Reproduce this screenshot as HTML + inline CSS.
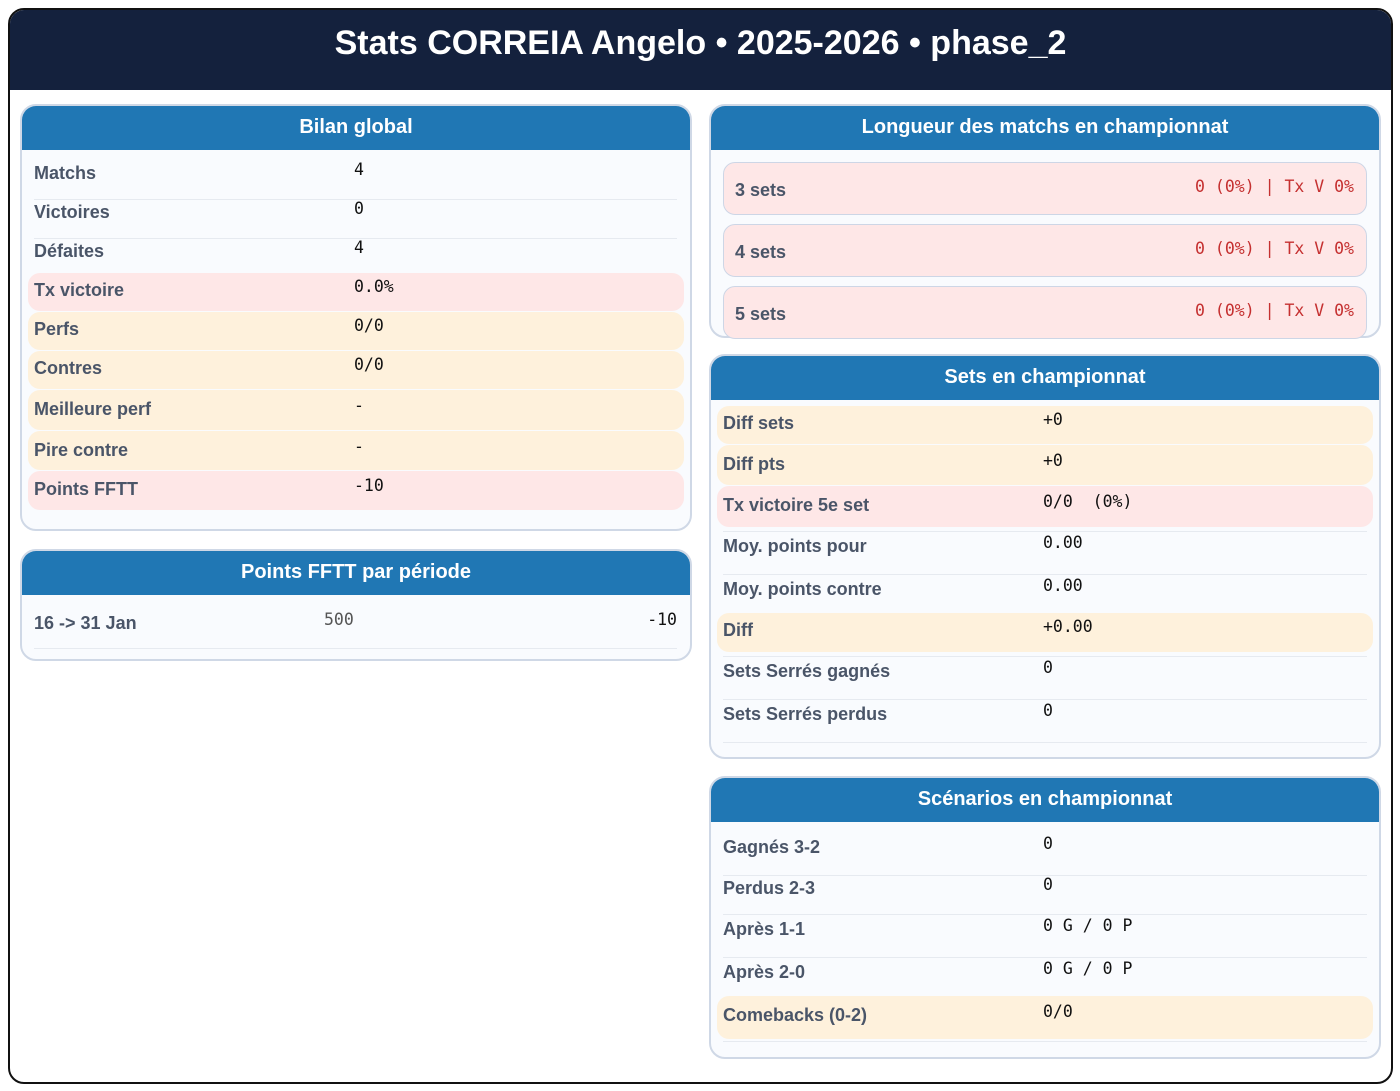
<!DOCTYPE html>
<html><head><meta charset="utf-8"><style>
*{box-sizing:border-box;margin:0;padding:0}
body{width:1400px;height:1091px;background:#fff;position:relative;font-family:"Liberation Sans",sans-serif;overflow:hidden}
.frame{position:absolute;left:8px;top:8px;width:1385px;height:1076px;border:2px solid #111;border-radius:16px;overflow:hidden}
.top{position:absolute;left:0;top:0;width:100%;height:80px;background:#14213d;color:#fff;font-weight:bold;font-size:34px;text-align:center;line-height:66px}
.panel{position:absolute;border:2px solid #cfd8e6;border-radius:16px;background:#f9fbfe;overflow:hidden}
.ph{position:absolute;left:-2px;top:-2px;right:-2px;height:46px;background:#2077b4;color:#fff;font-weight:bold;font-size:20px;text-align:center;line-height:46px}
.a{position:absolute;height:20px;line-height:20px;white-space:pre}
.l{font-weight:bold;font-size:18px;color:#4a5568;margin-top:1px}
.v{font-family:"DejaVu Sans Mono","Liberation Mono",monospace;font-size:16.5px;color:#111;margin-top:-2px}
.hl{position:absolute;border-radius:12px}
.p{background:#fee7e7}.y{background:#fef1dc}
.sep{position:absolute;height:1px;background:#e6eaf0}
.box{position:absolute;left:723px;width:644px;height:53px;background:#fee7e7;border:1px solid #cdd6e6;border-radius:12px}
.r{color:#c53030}
</style></head><body>
<div class="frame"><div class="top">Stats CORREIA Angelo • 2025-2026 • phase_2</div></div>

<div class="panel" style="left:20px;top:104px;width:672px;height:427px"><div class="ph">Bilan global</div></div>
<div class="panel" style="left:20px;top:549px;width:672px;height:112px"><div class="ph">Points FFTT par période</div></div>
<div class="panel" style="left:709px;top:104px;width:672px;height:234px"><div class="ph">Longueur des matchs en championnat</div></div>
<div class="panel" style="left:709px;top:354px;width:672px;height:405px"><div class="ph">Sets en championnat</div></div>
<div class="panel" style="left:709px;top:776px;width:672px;height:283px"><div class="ph">Scénarios en championnat</div></div>

<div class="sep" style="left:34px;width:643px;top:199px"></div>
<div class="sep" style="left:34px;width:643px;top:238px"></div>
<div class="hl p" style="left:28px;width:656px;top:273px;height:38px"></div>
<div class="hl y" style="left:28px;width:656px;top:312px;height:38px"></div>
<div class="hl y" style="left:28px;width:656px;top:351px;height:38px"></div>
<div class="hl y" style="left:28px;width:656px;top:390px;height:40px"></div>
<div class="hl y" style="left:28px;width:656px;top:431px;height:39px"></div>
<div class="hl p" style="left:28px;width:656px;top:471px;height:39px"></div>
<div class="a l" style="left:34px;top:162px">Matchs</div><div class="a v" style="left:354px;top:162px">4</div>
<div class="a l" style="left:34px;top:201px">Victoires</div><div class="a v" style="left:354px;top:201px">0</div>
<div class="a l" style="left:34px;top:240px">Défaites</div><div class="a v" style="left:354px;top:240px">4</div>
<div class="a l" style="left:34px;top:279px">Tx victoire</div><div class="a v" style="left:354px;top:279px">0.0%</div>
<div class="a l" style="left:34px;top:318px">Perfs</div><div class="a v" style="left:354px;top:318px">0/0</div>
<div class="a l" style="left:34px;top:357px">Contres</div><div class="a v" style="left:354px;top:357px">0/0</div>
<div class="a l" style="left:34px;top:398px">Meilleure perf</div><div class="a v" style="left:354px;top:398px">-</div>
<div class="a l" style="left:34px;top:439px">Pire contre</div><div class="a v" style="left:354px;top:439px">-</div>
<div class="a l" style="left:34px;top:478px">Points FFTT</div><div class="a v" style="left:354px;top:478px">-10</div>

<div class="a l" style="left:34px;top:612px">16 -&gt; 31 Jan</div>
<div class="a v" style="left:324px;top:612px;color:#555">500</div>
<div class="a v" style="left:600px;width:77px;text-align:right;top:612px">-10</div>
<div class="sep" style="left:34px;width:643px;top:648px"></div>

<div class="box" style="top:162px"></div>
<div class="box" style="top:224px"></div>
<div class="box" style="top:286px"></div>
<div class="a l" style="left:735px;top:179px">3 sets</div><div class="a v r" style="left:1000px;width:354px;text-align:right;top:179px">0 (0%) | Tx V 0%</div>
<div class="a l" style="left:735px;top:241px">4 sets</div><div class="a v r" style="left:1000px;width:354px;text-align:right;top:241px">0 (0%) | Tx V 0%</div>
<div class="a l" style="left:735px;top:303px">5 sets</div><div class="a v r" style="left:1000px;width:354px;text-align:right;top:303px">0 (0%) | Tx V 0%</div>

<div class="hl y" style="left:717px;width:656px;top:406px;height:38px"></div>
<div class="hl y" style="left:717px;width:656px;top:445px;height:40px"></div>
<div class="hl p" style="left:717px;width:656px;top:486px;height:41px"></div>
<div class="hl y" style="left:717px;width:656px;top:613px;height:39px"></div>
<div class="sep" style="left:723px;width:644px;top:531px"></div>
<div class="sep" style="left:723px;width:644px;top:574px"></div>
<div class="sep" style="left:723px;width:644px;top:656px"></div>
<div class="sep" style="left:723px;width:644px;top:699px"></div>
<div class="sep" style="left:723px;width:644px;top:742px"></div>
<div class="a l" style="left:723px;top:412px">Diff sets</div><div class="a v" style="left:1043px;top:412px">+0</div>
<div class="a l" style="left:723px;top:453px">Diff pts</div><div class="a v" style="left:1043px;top:453px">+0</div>
<div class="a l" style="left:723px;top:494px">Tx victoire 5e set</div><div class="a v" style="left:1043px;top:494px">0/0  (0%)</div>
<div class="a l" style="left:723px;top:535px">Moy. points pour</div><div class="a v" style="left:1043px;top:535px">0.00</div>
<div class="a l" style="left:723px;top:578px">Moy. points contre</div><div class="a v" style="left:1043px;top:578px">0.00</div>
<div class="a l" style="left:723px;top:619px">Diff</div><div class="a v" style="left:1043px;top:619px">+0.00</div>
<div class="a l" style="left:723px;top:660px">Sets Serrés gagnés</div><div class="a v" style="left:1043px;top:660px">0</div>
<div class="a l" style="left:723px;top:703px">Sets Serrés perdus</div><div class="a v" style="left:1043px;top:703px">0</div>

<div class="sep" style="left:723px;width:644px;top:875px"></div>
<div class="sep" style="left:723px;width:644px;top:914px"></div>
<div class="sep" style="left:723px;width:644px;top:957px"></div>
<div class="hl y" style="left:717px;width:656px;top:996px;height:43px"></div>
<div class="sep" style="left:723px;width:644px;top:1041px"></div>
<div class="a l" style="left:723px;top:836px">Gagnés 3-2</div><div class="a v" style="left:1043px;top:836px">0</div>
<div class="a l" style="left:723px;top:877px">Perdus 2-3</div><div class="a v" style="left:1043px;top:877px">0</div>
<div class="a l" style="left:723px;top:918px">Après 1-1</div><div class="a v" style="left:1043px;top:918px">0 G / 0 P</div>
<div class="a l" style="left:723px;top:961px">Après 2-0</div><div class="a v" style="left:1043px;top:961px">0 G / 0 P</div>
<div class="a l" style="left:723px;top:1004px">Comebacks (0-2)</div><div class="a v" style="left:1043px;top:1004px">0/0</div>
</body></html>
